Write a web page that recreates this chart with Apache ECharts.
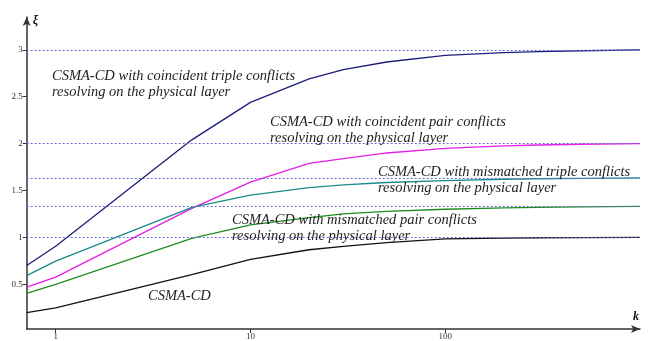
<!DOCTYPE html>
<html>
<head>
<meta charset="utf-8">
<script src="https://cdn.jsdelivr.net/npm/echarts@6/dist/echarts.min.js"></script>
<style>
  html, body { margin: 0; padding: 0; background: #fff; }
  #chart { width: 650px; height: 341px; }
</style>
</head>
<body>
<div id="chart"></div>
<script>
// Sample points of k (log scale)
const kValues = [0.71, 1, 5, 10, 20, 30, 50, 100, 200, 300, 500, 1000];

// Efficiency ξ for each access scheme
const coincidentTriple = [0.70, 0.905, 2.04, 2.44, 2.69, 2.79, 2.87, 2.94, 2.97, 2.98, 2.99, 3.0];
const coincidentPair   = [0.47, 0.576, 1.31, 1.59, 1.79, 1.84, 1.90, 1.95, 1.975, 1.985, 1.993, 2.0];
const mismatchedTriple = [0.593, 0.746, 1.32, 1.451, 1.53, 1.56, 1.585, 1.605, 1.62, 1.625, 1.63, 1.635];
const mismatchedPair   = [0.403, 0.498, 0.99, 1.133, 1.21, 1.25, 1.277, 1.30, 1.315, 1.32, 1.325, 1.33];
const csmaCd           = [0.198, 0.248, 0.604, 0.765, 0.868, 0.905, 0.945, 0.985, 0.993, 0.996, 0.998, 1.0];

// Asymptotic levels
const asymptotes = [3, 2, 1.63, 1.33, 1];

// Axis ticks
const xTicks = [1, 10, 100];
const yTicks = [0.5, 1, 1.5, 2, 2.5, 3];

const seriesNames = [
  'CSMA-CD with coincident triple conflicts resolving on the physical layer',
  'CSMA-CD with coincident pair conflicts resolving on the physical layer',
  'CSMA-CD with mismatched triple conflicts resolving on the physical layer',
  'CSMA-CD with mismatched pair conflicts resolving on the physical layer',
  'CSMA-CD'
];
const seriesData = [coincidentTriple, coincidentPair, mismatchedTriple, mismatchedPair, csmaCd];
const seriesColors = ['#1c1c7c', '#e61ee6', '#1b8a8a', '#1f8c1f', '#111111'];

const pairs = (ys) => kValues.map((k, i) => [k, ys[i]]);

const series = seriesData.map((ys, i) => ({
  name: seriesNames[i],
  type: 'line',
  data: pairs(ys),
  symbol: 'none',
  smooth: false,
  lineStyle: { color: seriesColors[i], width: 1.3 },
  z: 3
}));

// dotted asymptote levels
series.push({
  type: 'line',
  data: [],
  silent: true,
  markLine: {
    silent: true,
    symbol: 'none',
    label: { show: false },
    lineStyle: { color: '#6b6bd6', type: [2, 2], width: 1 },
    data: asymptotes.map(v => ({ yAxis: v }))
  },
  z: 1
});

const labelFont = { fontFamily: 'Liberation Serif', fontStyle: 'italic', fontSize: 14.5, fill: '#222', lineHeight: 16 };
const annotations = [
  { x: 52, y: 68, text: 'CSMA-CD with coincident triple conflicts\nresolving on the physical layer' },
  { x: 270, y: 114, text: 'CSMA-CD with coincident pair conflicts\nresolving on the physical layer' },
  { x: 378, y: 164, text: 'CSMA-CD with mismatched triple conflicts\nresolving on the physical layer' },
  { x: 232, y: 212, text: 'CSMA-CD with mismatched pair conflicts\nresolving on the physical layer' },
  { x: 148, y: 288, text: 'CSMA-CD' }
];

const tickFont = { fontFamily: 'Liberation Serif', fontSize: 9, color: '#333' };

const chart = echarts.init(document.getElementById('chart'), null, { renderer: 'canvas' });
chart.setOption({
  backgroundColor: '#ffffff',
  animation: false,
  grid: { left: 26.7, right: 10, top: 17, bottom: 9.3, containLabel: false },
  xAxis: {
    type: 'log',
    logBase: 10,
    min: 0.71,
    max: 1000,
    name: 'k',
    nameLocation: 'end',
    nameGap: -7,
    nameTextStyle: { fontFamily: 'Liberation Serif', fontStyle: 'italic', fontWeight: 'bold', fontSize: 12, color: '#111', verticalAlign: 'bottom', padding: [0, 0, 6, 0] },
    axisLine: { show: true, symbol: ['none', 'arrow'], symbolSize: [6, 9], lineStyle: { color: '#333', width: 1.5 } },
    axisTick: { show: true, length: 4, customValues: xTicks, lineStyle: { color: '#333' } },
    axisLabel: Object.assign({ customValues: xTicks, margin: 3 }, tickFont),
    splitLine: { show: false },
    minorTick: { show: false }
  },
  yAxis: {
    type: 'value',
    min: 0.023,
    max: 3.35,
    name: 'ξ',
    nameLocation: 'end',
    nameGap: -10,
    nameTextStyle: { fontFamily: 'Liberation Serif', fontStyle: 'italic', fontWeight: 'bold', fontSize: 12, color: '#111', align: 'left', padding: [0, 0, 0, 6] },
    axisLine: { show: true, symbol: ['none', 'arrow'], symbolSize: [6, 9], lineStyle: { color: '#333', width: 1.5 } },
    axisTick: { show: true, length: 4, customValues: yTicks, lineStyle: { color: '#333' } },
    axisLabel: Object.assign({ customValues: yTicks, margin: 4 }, tickFont),
    splitLine: { show: false }
  },
  graphic: annotations.map(a => ({
    type: 'text',
    left: a.x,
    top: a.y,
    z: 10,
    style: Object.assign({ text: a.text }, labelFont)
  })),
  series: series
});
</script>
</body>
</html>
